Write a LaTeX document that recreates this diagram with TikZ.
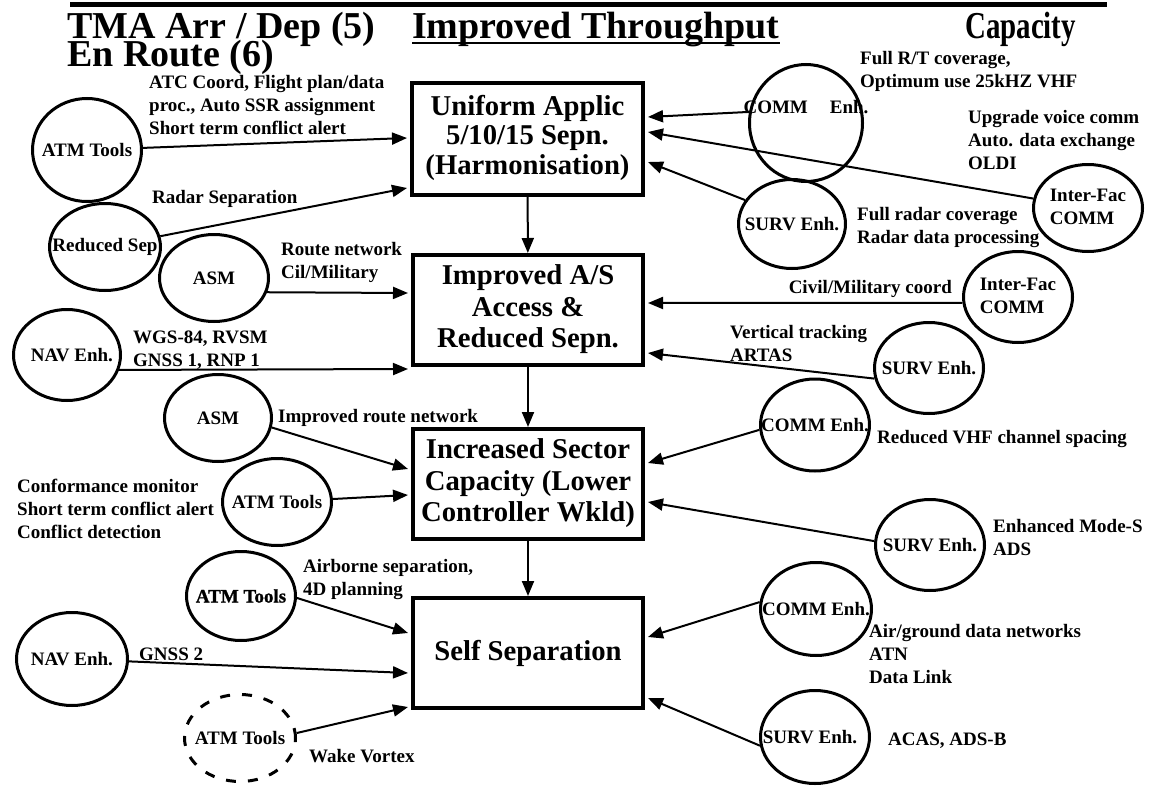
\documentclass[tikz,border=0pt]{standalone}
\usepackage{fontspec}
\usepackage{graphicx}
\setmainfont{Liberation Serif}
\usetikzlibrary{shapes.geometric,arrows.meta,calc}
\newcommand\smf{\fontsize{19}{23}\selectfont\bfseries}
\newcommand\bxf{\fontsize{28.7}{31.5}\selectfont\bfseries}
\newcommand\ttf{\fontsize{38}{26}\selectfont\bfseries}
\newcommand\lb[1]{\begin{tabular}[t]{@{}l@{}}#1\end{tabular}}
\newcommand\zt[1]{\makebox[0pt]{#1}}
\newcommand\zl[1]{\makebox[0pt]{\begin{tabular}{@{}l@{}}#1\end{tabular}}}
\newcommand\bt[1]{\begin{tabular}{@{}c@{}}#1\end{tabular}}
\tikzset{
  ell/.style={draw, ellipse, line width=3pt, inner sep=0pt, font=\smf},
  boxn/.style={draw, rectangle, line width=4pt, inner sep=0pt, font=\bxf, minimum width=230pt, minimum height=110pt},
  arr/.style={line width=2pt, -{Triangle[length=15pt,width=12pt]}},
  lbl/.style={inner sep=0pt, anchor=base west, font=\smf},
  ttl/.style={inner sep=0pt, anchor=base west, font=\ttf}
}
\begin{document}
\begin{tikzpicture}[x=1pt,y=-1pt]
\useasboundingbox (0,0) rectangle (1151,787);
% title
\draw[line width=5.5pt] (70,4.5) -- (1107,4.5);
\node[ttl] (t1) at (67,38) {TMA Arr / Dep (5)};
\node[ttl] (t2) at (67,66) {En Route (6)};
\node[ttl] (t3) at (412,38) {Improved Throughput};
\draw[line width=2.5pt] ($(t3.base west)+(0,5)$) -- ($(t3.base east)+(0,5)$);
\node[ttl] (t4) at (965,38) {\scalebox{0.76}[1]{Capacity}};
% boxes
\node[boxn, minimum width=231pt, minimum height=112pt] (box1) at (527.5,139) {\fontsize{28.7}{29.5}\selectfont\bt{Uniform Applic\\5/10/15 Sepn.\\(Harmonisation)}};
\node[boxn] (box2) at (528,310) {\bt{Improved A/S\\Access \&\\Reduced Sepn.}};
\node[boxn] (box3) at (528,484) {\bt{Increased Sector\\Capacity (Lower\\Controller Wkld)}};
\node[boxn] (box4) at (528,653) {\raisebox{6pt}{Self Separation}};
\draw[arr] (box1) -- (box2);
\draw[arr] (box2) -- (box3);
\draw[arr] (box3) -- (box4);
% left ellipses
\node[ell, minimum width=109pt, minimum height=103pt] (atm1) at (87,150) {\zt{ATM Tools}};
\node[ell, minimum width=111pt, minimum height=87pt] (redsep) at (105,247) {\zt{Reduced Sep}};
\node[ell, minimum width=109pt, minimum height=87pt] (asm1) at (214,278) {\zt{ASM}};
\node[ell, minimum width=107pt, minimum height=91pt] (nav1) at (67,355) {\zt{\hspace{10pt}NAV Enh.}};
\node[ell, minimum width=107pt, minimum height=87pt] (asm2) at (218,418) {\zt{ASM}};
\node[ell, minimum width=109pt, minimum height=87pt] (atm2) at (277,502) {\zt{ATM Tools}};
\node[ell, minimum width=109pt, minimum height=89pt] (atm3) at (241,596) {\zt{\addfontfeature{FakeBold=1.2}ATM Tools}};
\node[ell, minimum width=111pt, minimum height=93pt] (nav2) at (72,659) {\zt{NAV Enh.}};
\node[ell, dash pattern=on 10pt off 12pt, minimum width=111pt, minimum height=87pt] (atm4) at (240,738) {\zt{ATM Tools}};
% right ellipses
\node[ell, minimum width=113pt, minimum height=117pt, text depth=33pt] (comm1) at (806,123) {\zt{COMM\hspace{22pt}Enh.}};
\node[ell, minimum width=109pt, minimum height=87pt] (if1) at (1088,208) {\zl{Inter-Fac\\COMM}};
\node[ell, minimum width=107pt, minimum height=89pt] (surv1) at (792,224) {\zt{SURV Enh.}};
\node[ell, minimum width=109pt, minimum height=91pt] (if2) at (1018,297) {\zl{Inter-Fac\\COMM}};
\node[ell, minimum width=109pt, minimum height=91pt] (surv2) at (929,368) {\zt{SURV Enh.}};
\node[ell, minimum width=109pt, minimum height=92pt] (comm2) at (815,425) {\zt{COMM Enh.}};
\node[ell, minimum width=109pt, minimum height=91pt] (surv3) at (930,545) {\zt{SURV Enh.}};
\node[ell, minimum width=111pt, minimum height=93pt] (comm3) at (816,609) {\zt{COMM Enh.}};
\node[ell, minimum width=109pt, minimum height=93pt] (surv4) at (815,737) {\zt{SURV Enh.\hspace{10pt}}};
% left labels
\node[lbl] (l1) at (149,88) {\lb{ATC Coord, Flight plan/data\\proc., Auto SSR assignment\\Short term conflict alert}};
\node[lbl] (l2) at (152,203) {Radar Separation};
\node[lbl] (l3) at (281,255) {\lb{Route network\\Cil/Military}};
\node[lbl] (l4) at (133,343) {\lb{WGS-84, RVSM\\GNSS 1, RNP 1}};
\node[lbl] (l5) at (278,422) {Improved route network};
\node[lbl] (l6) at (17,492) {\lb{Conformance monitor\\Short term conflict alert\\Conflict detection}};
\node[lbl] (l7) at (303,572) {\lb{Airborne separation,\\4D planning}};
\node[lbl] (l8) at (139,660) {GNSS 2};
\node[lbl] (l9) at (309,762) {Wake Vortex};
% right labels
\node[lbl] (r1) at (860,64) {\lb{Full R/T coverage,\\Optimum use 25kHZ VHF}};
\node[lbl] (r2) at (968,123) {\lb{Upgrade voice comm\\Auto. data exchange\\OLDI}};
\node[lbl] (r3) at (857,220) {\lb{Full radar coverage\\Radar data processing}};
\node[lbl, anchor=base east] (r4) at (952,293) {Civil/Military coord};
\node[lbl] (r5) at (730,338) {\lb{Vertical tracking\\ARTAS}};
\node[lbl] (r6) at (877,443) {Reduced VHF channel spacing};
\node[lbl] (r7) at (993,532) {\lb{Enhanced Mode-S\\ADS}};
\node[lbl] (r8) at (869,637) {\lb{Air/ground data networks\\ATN\\Data Link}};
\node[lbl] (r9) at (888,745) {ACAS, ADS-B};
% left connectors
\draw[arr] (atm1) -- ($(box1.west)+(-3,-1)$);
\draw[arr] (redsep) -- ($(box1.west)+(-3,49)$);
\draw[arr] (asm1.-15) -- ($(box2.west)+(-3,-17)$);
\draw[arr] (nav1.-16) -- ($(box2.west)+(-3,59)$);
\draw[arr] (asm2.-10) -- ($(box3.west)+(-3,-15)$);
\draw[arr] (atm2) -- ($(box3.west)+(-3,11)$);
\draw[arr] (atm3.-2) -- ($(box4.west)+(-3,-20)$);
\draw[arr] (nav2) -- ($(box4.west)+(-3,20)$);
\draw[arr] (atm4.5) -- ($(box4.west)+(-3,54)$);
% right connectors
\draw[arr] (comm1.169) -- ($(box1.east)+(3,-22)$);
\draw[arr] (if1) -- ($(box1.east)+(3,-7)$);
\draw[arr] (surv1.153) -- ($(box1.east)+(3,23)$);
\draw[arr] (if2.186) -- ($(box2.east)+(3,-7)$);
\draw[arr] (surv2.191) -- ($(box2.east)+(3,43)$);
\draw[arr] (comm2.185) -- ($(box3.east)+(3,-21)$);
\draw[arr] (surv3.176) -- ($(box3.east)+(3,18)$);
\draw[arr] (comm3.173) -- ($(box4.east)+(3,-16)$);
\draw[arr] (surv4.189) -- ($(box4.east)+(3,45)$);
\end{tikzpicture}
\end{document}
